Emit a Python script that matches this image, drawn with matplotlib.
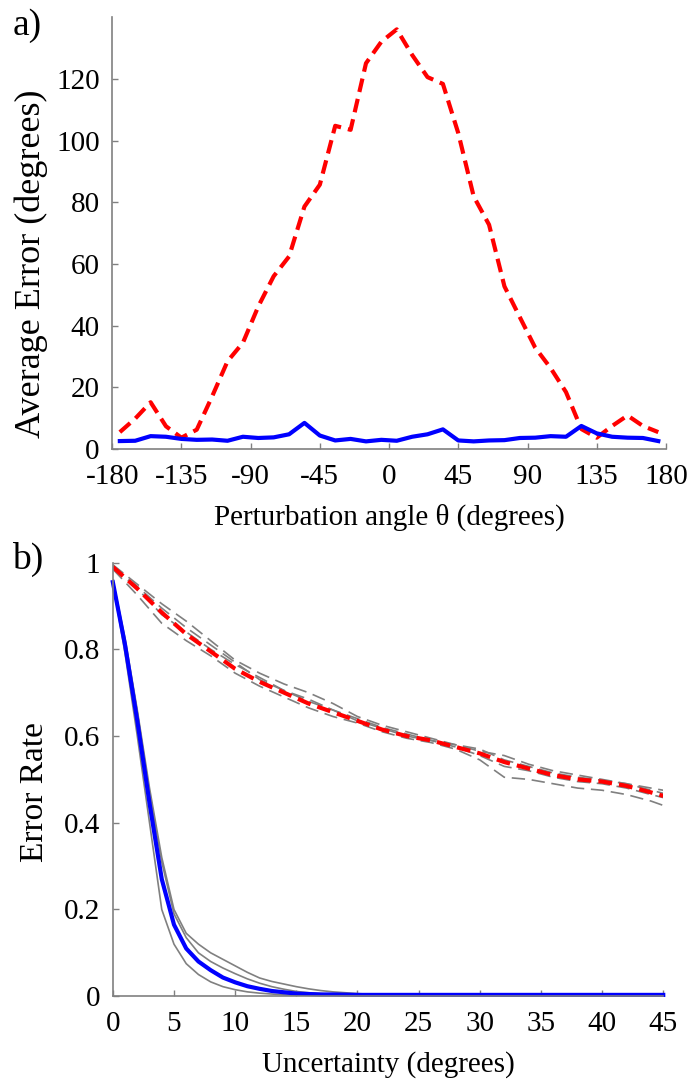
import numpy as np
import matplotlib
matplotlib.use('Agg')
import matplotlib.pyplot as plt

plt.rcParams['font.family'] = ['Liberation Serif', 'DejaVu Serif']
plt.rcParams['axes.unicode_minus'] = False

# ---- panel a) data ----
angle = [-175, -165, -155, -145, -135, -125, -115, -105, -95, -85, -75, -65,
         -55, -45, -35, -25, -15, -5, 5, 15, 25, 35, 45, 55, 65, 75,
         85, 95, 105, 115, 125, 135, 145, 155, 165, 175]
err_dashed = [5.4, 9.8, 15.1, 7.3, 3.6, 6.2, 17.0, 28.4, 34.4, 46.2, 56.0, 62.4,
              78.6, 85.7, 104.8, 103.5, 125.1, 132.1, 136.1, 127.8, 120.6, 118.4,
              102.4, 81.9, 72.7, 52.7, 42.7, 32.8, 26.2, 18.4, 6.4, 3.6, 7.4,
              10.8, 7.4, 5.4]
err_solid = [2.5, 2.6, 4.1, 3.9, 3.2, 2.9, 3.0, 2.6, 3.9, 3.5, 3.7, 4.7,
             8.4, 4.3, 2.7, 3.2, 2.4, 2.9, 2.6, 3.9, 4.7, 6.3, 2.7, 2.4,
             2.7, 2.8, 3.5, 3.6, 4.1, 3.9, 7.4, 5.0, 3.9, 3.6, 3.5, 2.5]

# ---- panel b) data ----
unc_r = [0, 2, 4, 6, 8, 10, 12, 14, 16, 18, 20, 22, 24, 26, 28, 30, 32, 34,
         36, 38, 40, 42, 44, 45]
rate_red = [0.99, 0.94, 0.885, 0.835, 0.795, 0.755, 0.725, 0.70, 0.675, 0.655,
            0.635, 0.615, 0.60, 0.59, 0.575, 0.56, 0.54, 0.525, 0.51, 0.50,
            0.495, 0.485, 0.47, 0.462]
grey_d1 = [0.995, 0.95, 0.905, 0.865, 0.82, 0.775, 0.745, 0.72, 0.70, 0.675,
           0.645, 0.625, 0.61, 0.595, 0.58, 0.565, 0.555, 0.535, 0.52, 0.51,
           0.50, 0.49, 0.48, 0.475]
grey_d2 = [0.985, 0.925, 0.86, 0.82, 0.785, 0.745, 0.715, 0.69, 0.665, 0.645,
           0.63, 0.61, 0.595, 0.585, 0.57, 0.545, 0.505, 0.50, 0.49, 0.48,
           0.475, 0.465, 0.45, 0.44]
grey_d3 = [0.99, 0.94, 0.88, 0.84, 0.80, 0.765, 0.735, 0.705, 0.68, 0.66,
           0.64, 0.62, 0.605, 0.59, 0.575, 0.555, 0.53, 0.52, 0.505, 0.495,
           0.49, 0.48, 0.465, 0.458]
grey_d4 = [0.99, 0.945, 0.895, 0.85, 0.81, 0.77, 0.73, 0.705, 0.685, 0.66,
           0.635, 0.618, 0.60, 0.59, 0.58, 0.57, 0.545, 0.53, 0.515, 0.505,
           0.498, 0.49, 0.475, 0.468]

unc_b = [0, 1, 2, 3, 4, 5, 6, 7, 8, 9, 10, 11, 12, 13, 14, 15, 16, 17, 18,
         20, 22, 25, 30, 35, 40, 45]
rate_blue = [0.955, 0.81, 0.635, 0.445, 0.27, 0.165, 0.11, 0.08, 0.06, 0.043,
             0.032, 0.023, 0.017, 0.012, 0.009, 0.006, 0.005, 0.004, 0.004,
             0.003, 0.003, 0.003, 0.003, 0.003, 0.003, 0.003]
grey_s1 = [0.955, 0.79, 0.60, 0.40, 0.20, 0.12, 0.075, 0.05, 0.033, 0.022,
           0.015, 0.01, 0.007, 0.005, 0.003, 0.002, 0.001, 0.001, 0.0,
           0.0, 0.0, 0.0, 0.0, 0.0, 0.0, 0.0]
grey_s2 = [0.96, 0.82, 0.655, 0.47, 0.31, 0.19, 0.135, 0.10, 0.08, 0.065,
           0.052, 0.04, 0.03, 0.022, 0.016, 0.011, 0.008, 0.006, 0.004,
           0.002, 0.001, 0.0, 0.0, 0.0, 0.0, 0.0]
grey_s3 = [0.96, 0.825, 0.66, 0.48, 0.32, 0.20, 0.145, 0.12, 0.10, 0.085,
           0.07, 0.055, 0.042, 0.034, 0.028, 0.022, 0.017, 0.013, 0.01,
           0.006, 0.003, 0.001, 0.0, 0.0, 0.0, 0.0]

axcol = '#808080'
fs_tick = 21
fs_xlab = 21

fig = plt.figure(figsize=(6.88, 10.84), dpi=100)
ax1 = fig.add_axes([0.163, 0.586, 0.805, 0.398])
ax2 = fig.add_axes([0.164, 0.081, 0.800, 0.400])


def style(ax):
    for s in ['top', 'right']:
        ax.spines[s].set_visible(False)
    for s in ['left', 'bottom']:
        ax.spines[s].set_color(axcol)
        ax.spines[s].set_linewidth(1.2)
    ax.tick_params(direction='in', length=4, width=1, color=axcol,
                   labelsize=fs_tick)
    ax.tick_params(axis='x', pad=11)
    ax.tick_params(axis='y', pad=9)


# a)
ax1.plot(angle, err_dashed, color='red', lw=3, ls=(0, (3.3, 1.7)), clip_on=False)
ax1.plot(angle, err_solid, color='blue', lw=3, clip_on=False)
ax1.set_xlim(-180, 180)
ax1.set_ylim(0, 140)
ax1.set_xticks(np.arange(-180, 181, 45))
ax1.set_yticks(np.arange(0, 121, 20))
style(ax1)
ax1.set_xlabel('Perturbation angle θ (degrees)', fontsize=fs_xlab, labelpad=10)
ax1.set_ylabel('Average Error (degrees)', fontsize=26)
ax1.yaxis.set_label_coords(-0.115, 0.428)
fig.text(0.018, 1 - 8 / 1084, 'a)', fontsize=27, va='top')

# b)
for g in [grey_d1, grey_d2, grey_d3, grey_d4]:
    ax2.plot(unc_r, g, color='#808080', lw=1.2, ls=(0, (8, 4)))
for g in [grey_s1, grey_s2, grey_s3]:
    ax2.plot(unc_b, g, color='#808080', lw=1.2)
ax2.plot(unc_r, rate_red, color='red', lw=3, ls=(0, (3.3, 1.7)))
ax2.plot(unc_b, rate_blue, color='blue', lw=3, clip_on=False)
ax2.set_xlim(0, 45)
ax2.set_ylim(0, 1)
ax2.set_xticks(np.arange(0, 46, 5))
ax2.set_yticks([0, 0.2, 0.4, 0.6, 0.8, 1])
ax2.set_yticklabels(['0', '0.2', '0.4', '0.6', '0.8', '1'])
style(ax2)
ax2.set_xlabel('Uncertainty (degrees)', fontsize=fs_xlab, labelpad=10)
ax2.set_ylabel('Error Rate', fontsize=24)
ax2.yaxis.set_label_coords(-0.115, 0.47)
fig.text(0.018, 1 - 542 / 1084, 'b)', fontsize=27, va='top')

fig.savefig('out.png', dpi=100)
